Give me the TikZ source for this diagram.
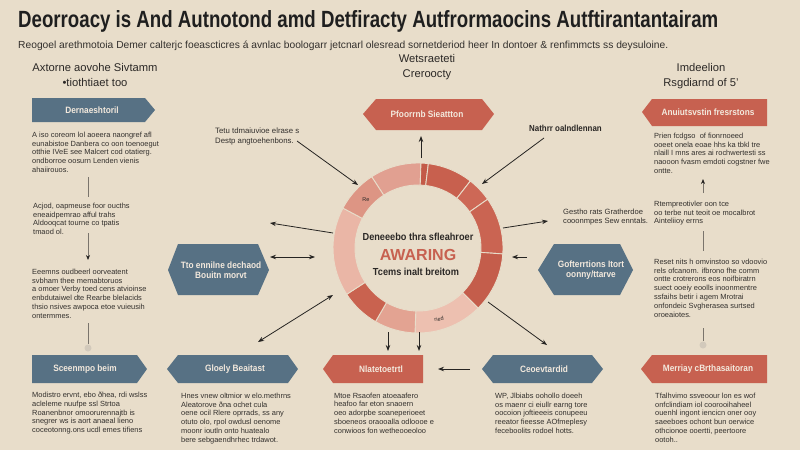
\documentclass[tikz,border=0pt]{standalone}
\usepackage{fontspec}
\usepackage{graphicx}
\setmainfont{Liberation Sans}
\newfontfamily\condf{Liberation Sans}[FakeStretch=0.9]
\usetikzlibrary{arrows.meta,calc}
\definecolor{bg}{HTML}{E8DDCA}
\definecolor{slate}{HTML}{577184}
\definecolor{brick}{HTML}{C76150}
\definecolor{txt}{HTML}{33302D}
\definecolor{headtxt}{HTML}{2B2826}
\definecolor{labtxt}{HTML}{F3E9DD}
\definecolor{arrc}{HTML}{262422}
\definecolor{linec}{HTML}{7A746C}
\definecolor{ballc}{HTML}{D2C9BB}
\definecolor{ringA}{HTML}{E1A091}
\definecolor{ringB}{HTML}{C35A48}
\definecolor{ringC}{HTML}{C8604E}
\definecolor{ringD}{HTML}{CD6856}
\definecolor{ringE}{HTML}{CA6452}
\definecolor{ringF}{HTML}{C45D4B}
\definecolor{ringG}{HTML}{EDC0B0}
\definecolor{ringH}{HTML}{E3A392}
\definecolor{ringI}{HTML}{C9624F}
\definecolor{ringJ}{HTML}{EAB6A6}
\definecolor{ringK}{HTML}{DD9584}
\newcommand\ringseg[3]{\fill[#3,draw=bg,line width=0.9pt] (#1:85) arc[start angle=#1,end angle=#2,radius=85] -- (#2:63) arc[start angle=#2,end angle=#1,radius=63] -- cycle;}
\begin{document}
\begin{tikzpicture}[x=1pt,y=-1pt,
  para/.style={anchor=north west,inner sep=0,align=left,text=txt,font=\fontsize{7.45}{8.9}\selectfont},
  lab/.style={inner sep=0,text=labtxt,align=center,font=\condf\bfseries\fontsize{9.2}{10.5}\selectfont},
  head/.style={inner sep=0,text=headtxt,align=center,font=\fontsize{11.2}{14.5}\selectfont},
  arr/.style={draw=arrc,line width=0.8pt,-{Stealth[length=6pt,width=4.5pt]}},
  darr/.style={draw=arrc,line width=0.8pt,{Stealth[length=6pt,width=4.5pt]}-{Stealth[length=6pt,width=4.5pt]}},
  vline/.style={draw=linec,line width=0.7pt},
  varr/.style={draw=linec,line width=0.7pt,-{Stealth[length=5pt,width=4pt,color=arrc]}}
]
\fill[bg] (0,0) rectangle (800,450);
\useasboundingbox (0,0) rectangle (800,450);

% title
\node[anchor=base west,inner sep=0,text=black!88] (title) at (18,27) {\resizebox{700pt}{17pt}{\bfseries Deorroacy is And Autnotond amd Detfiracty Autfrormaocins Autftirantantairam}};
\node[anchor=base west,inner sep=0,text=txt] (sub) at (18,48) {\resizebox{650pt}{!}{\fontsize{8.5}{10}\selectfont Reogoel arethmotoia Demer calterjc foeascticres á avnlac boologarr jetcnarl olesread sornetderiod heer In dontoer \& renfimmcts ss deysuloine.}};

% headers
\node[head] (hl) at (95,75) {Axtorne aovohe Sivtamm\\\textbullet tiothtiaet too};
\node[head] (hc) at (427,67) {Wetsraeteti\\Creroocty};
\node[head] (hr) at (701,76) {Imdeelion\\Rsgdiarnd of 5'};

% ---- shapes ----
\fill[slate] (32,98) -- (145,98) -- (155,110) -- (145,122) -- (32,122) -- cycle;
\node[lab] (b1) at (92,110) {Dernaeshtoril};
\fill[slate] (32,355) -- (137,355) -- (147,369) -- (137,383) -- (32,383) -- cycle;
\node[lab] (b2) at (85,369) {Sceenmpo beim};
\fill[slate] (168,270) -- (178,244) -- (258,244) -- (269,270) -- (258,295) -- (178,295) -- cycle;
\node[lab] (b3) at (221,270) {Tto ennilne dechaod\\Bouitn morvt};
\fill[slate] (538,270) -- (554,244) -- (620,244) -- (633,270) -- (620,295) -- (554,295) -- cycle;
\node[lab] (b4) at (591,270) {Gofterrtions Itort\\oonny/ttarve};
\fill[slate] (167,369) -- (178,355) -- (288,355) -- (298,369) -- (288,383) -- (178,383) -- cycle;
\node[lab] (b5) at (235,369) {Gloely Beaitast};
\fill[slate] (482,369) -- (493,355) -- (592,355) -- (603,369) -- (592,383) -- (493,383) -- cycle;
\node[lab] (b6) at (544,369) {Ceoevtardid};
\fill[brick] (363,114) -- (376,99) -- (482,99) -- (494,114) -- (482,130) -- (376,130) -- cycle;
\node[lab] (r1) at (427,114) {Pfoorrnb Sieattton};
\fill[brick] (323,369) -- (333,355) -- (423,355) -- (423,383) -- (333,383) -- cycle;
\node[lab] (r2) at (381,369) {Nlatetoetrtl};
\fill[brick] (641,369) -- (652,355) -- (767,355) -- (767,383) -- (652,383) -- cycle;
\node[lab] (r3) at (708,369) {Merriay cBrthasaitoran};
\fill[brick] (642,112) -- (652,99) -- (767,99) -- (767,126) -- (652,126) -- cycle;
\node[lab] (r4) at (708,112) {Anuiutsvstin fresrstons};

% ---- ring ----
\begin{scope}[shift={(418,248)},yscale=-1]
\ringseg{88}{123}{ringA}
\ringseg{83}{88}{ringB}
\ringseg{52}{83}{ringC}
\ringseg{35}{52}{ringD}
\ringseg{-4}{35}{ringE}
\ringseg{-45}{-4}{ringF}
\ringseg{-92}{-45}{ringG}
\ringseg{-120}{-92}{ringH}
\ringseg{-147}{-120}{ringI}
\ringseg{152}{213}{ringJ}
\ringseg{123}{152}{ringK}
\end{scope}
\coordinate (ringc) at (418,248);
\node[inner sep=0,text=headtxt,font=\fontsize{5.5}{6}\selectfont] (sre) at (366,200) {Re};
\node[inner sep=0,text=headtxt,font=\fontsize{5.5}{6}\selectfont,rotate=8] (sri) at (439,319) {ried};
\node[inner sep=0,text=headtxt,font=\condf\bfseries\fontsize{10.2}{11}\selectfont] (rt1) at (418,237) {Deneeebo thra sfleahroer};
\node[inner sep=0,text=brick,font=\bfseries\fontsize{16}{18}\selectfont] (rt2) at (418,255) {AWARING};
\node[inner sep=0,text=headtxt,font=\condf\bfseries\fontsize{10.2}{11}\selectfont] (rt3) at (416,272) {Tcems inalt breitom};

% ---- side texts ----
\node[para,font=\fontsize{7.8}{9.5}\selectfont] (tetu) at (215,128) {Tetu tdmaiuvioe elrase s\\Destp angtoehenbons.};
\node[inner sep=0,anchor=west,text=headtxt,font=\condf\bfseries\fontsize{8.8}{9}\selectfont] (nath) at (529,128) {Nathrr oalndlennan};
\node[para,font=\fontsize{7.6}{9}\selectfont] (gest) at (563,209) {Gestho rats Gratherdoe\\cooonmpes Sew enntals.};

% ---- paragraphs ----
\node[para] (pl1) at (32,131.5) {A iso coreom lol aoeera naongref afl\\eunabistoe Danbera co oon toenoegut\\otthie IVeE see Malcert cod otatierg.\\ondborroe oosurn Lenden vienis\\ahaiirouos.};
\node[para] (pl2) at (33,202.5) {Acjod, oapmeuse foor oucths\\eneaidpemrao afful trahs\\Aldooqcat tourne co tpatis\\tmaod ol.};
\node[para] (pl3) at (32,268.5) {Eeemns oudbeerl oorveatent\\svbham thee memabtoruos\\a omoer Verby toed cens atvioinse\\enbdutaiwel dte Rearbe blelacids\\thsio nsives awpoca etoe vuieusih\\ontermmes.};
\node[para] (pl4) at (32,391.5) {Modistro ervnt, ebo ðhea, rdi wslss\\acleleme nuufpe ssl Strtoa\\Roanenbnor omoorurennajtb is\\snegrer ws is aort anaeal lieno\\coceotonng.ons ucdl emes tifiens};
\node[para] (pb1) at (181,392.5) {Hnes vnew oltmior w elo.methrns\\Aleatorove ðna ochet cula\\oene ocil Rlere oprrads, ss any\\otuto olo, rpol owdusl oenome\\moonr ioutln onto huatealo\\bere sebgaendhrhec trdawot.};
\node[para] (pb2) at (334,392.5) {Mtoe Rsaofen atoeaafero\\heafoo far eton snaoern\\oeo adorpbe soaneperioeet\\sboeneos oraooalla odloooe e\\conwioos fon wetheooeoloo};
\node[para] (pb3) at (495,392.5) {WP, Jlbiabs oohollo doeeh\\os maenr ci eiullr earng tore\\oocoion joftieeeis conupeeu\\reeator fieesse AOfmeplesy\\feceboolits rodoel hotts.};
\node[para] (pb4) at (655,392.5) {Tfalhvimo ssveoour lon es wof\\onfclindiam iol coorooihaheel\\ouenhl ingont iencicn oner ooy\\saeeboes ochont bun oerwice\\othcionoe ooertti, peertoore\\ootoh..};
\node[para] (pr1) at (654,132.5) {Prien fcdgso\ \ of fionrnoeed\\ooeet onela eoae hhs ka tbkl tre\\nlaill I mns ares ai rochwertesti ss\\naooon fvasm emdoti cogstner fwe\\ontte.};
\node[para] (pr2) at (654,200.5) {Rtempreotivler oon tce\\oo terbe nut teoit oe mocalbrot\\Ainteliioy errns};
\node[para] (pr3) at (654,258.5) {Reset nits h omvinstoo so vdoovio\\rels ofcanom. ifbrono fhe comm\\ontte crotrerons eos noifbiratrn\\suect ooeiy eoolls inoonmentre\\ssfaihs betir i agem Mrotrai\\onfondeic Svgherasea surtsed\\oroeaiotes.};

% ---- connector end points ----
\coordinate (a1s) at (297,141); \coordinate (a1e) at (358,185);
\coordinate (a2s) at (421,158); \coordinate (a2e) at (421,136);
\coordinate (a3s) at (544,138); \coordinate (a3e) at (482,184);
\coordinate (a4s) at (333,233); \coordinate (a4e) at (270,223);
\coordinate (a5s) at (270,257); \coordinate (a5e) at (315,257);
\coordinate (a6s) at (503,228); \coordinate (a6e) at (548,221);
\coordinate (a7s) at (527,257); \coordinate (a7e) at (512,257);
\coordinate (a8s) at (333,295); \coordinate (a8e) at (258,342);
\coordinate (a9s) at (488,302); \coordinate (a9e) at (547,345);
\coordinate (a10s) at (388,332); \coordinate (a10e) at (388,351);
\coordinate (a11s) at (419,332); \coordinate (a11e) at (419,351);
\coordinate (a12s) at (470,369); \coordinate (a12e) at (438,369);

\draw[arr] (a1s) -- (a1e);
\draw[arr] (a2s) -- (a2e);
\draw[arr] (a3s) -- (a3e);
\draw[arr] (a4s) -- (a4e);
\draw[darr] (a5s) -- (a5e);
\draw[arr] (a6s) -- (a6e);
\draw[arr] (a7s) -- (a7e);
\draw[darr] (a8s) -- (a8e);
\draw[arr] (a9s) -- (a9e);
\draw[arr] (a10s) -- (a10e);
\draw[arr] (a11s) -- (a11e);
\draw[arr] (a12s) -- (a12e);

% column connectors
\coordinate (l1s) at (88,177); \coordinate (l1e) at (88,197);
\coordinate (l2s) at (88,233); \coordinate (l2e) at (88,260);
\coordinate (l3s) at (88,323); \coordinate (l3e) at (88,344);
\coordinate (q1s) at (703,193); \coordinate (q1e) at (703,179);
\coordinate (q2s) at (703,231); \coordinate (q2e) at (703,251);
\coordinate (q3s) at (703,328); \coordinate (q3e) at (703,341);
\draw[vline] (l1s) -- (l1e);
\draw[varr] (l2s) -- (l2e);
\draw[vline] (l3s) -- (l3e);
\fill[ballc] (88,348) circle[radius=3.5];
\draw[varr] (q1s) -- (q1e);
\draw[vline] (q2s) -- (q2e);
\draw[vline] (q3s) -- (q3e);
\fill[ballc] (703,345) circle[radius=3.5];
\end{tikzpicture}
\end{document}
